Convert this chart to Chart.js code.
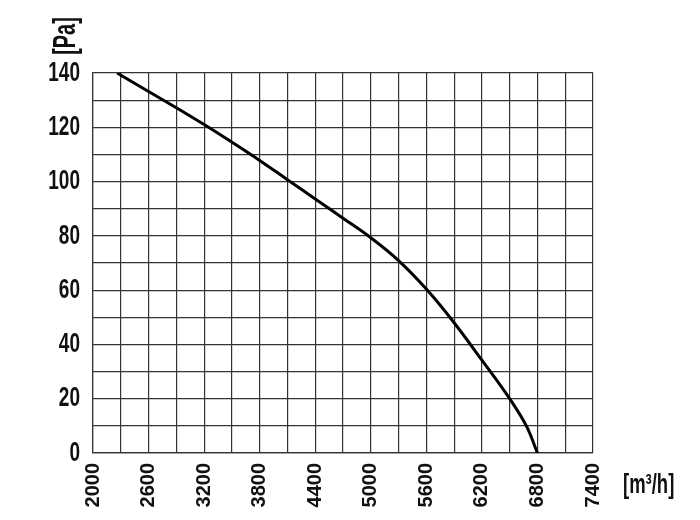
<!DOCTYPE html>
<html>
<head>
<meta charset="utf-8">
<script src="https://cdn.jsdelivr.net/npm/chart.js@4.4.1/dist/chart.umd.min.js"></script>
<style>
	body { margin: 0; background: #fff; }
	#chart { display: block; }
</style>
</head>
<body>
<canvas id="chart" width="700" height="520"></canvas>
<script>
// Fan curve: air flow [m3/h] against static pressure [Pa]

const flowRate = [2260, 2600, 2900, 3200, 3500, 3800, 4100, 4400, 4700, 5000, 5300, 5600, 5900, 6200, 6500, 6680, 6800];
const pressure = [140, 133.2, 127.2, 121, 114.5, 107.8, 100.7, 93.6, 86.5, 79.3, 70.9, 60.4, 48, 34.2, 20, 10, 0];

const xTickLabels = [2000, 2600, 3200, 3800, 4400, 5000, 5600, 6200, 6800, 7400];
const yTickLabels = [0, 20, 40, 60, 80, 100, 120, 140];

const fontFamily = "'Liberation Sans', Arial, sans-serif";
const gridColor = "#333";
const textColor = "#111";

// the original lettering is a tall condensed face, so squeeze it sideways
const drawNarrowText = (ctx, text, x, y, size, squeeze, align, angle) => {
	ctx.save();
	ctx.translate(x, y);
	ctx.rotate(angle || 0);
	ctx.scale(squeeze, 1);
	ctx.font = `bold ${size}px ${fontFamily}`;
	ctx.fillStyle = textColor;
	ctx.textAlign = align;
	ctx.textBaseline = "middle";
	ctx.fillText(text, 0, 0);
	ctx.restore();
};

const narrowLabels = {
	id: "narrowLabels",
	afterDraw: (chart) => {
		const ctx = chart.ctx;
		const yScale = chart.scales.y;
		yTickLabels.forEach((v) => {
			drawNarrowText(ctx, String(v), yScale.right - 13, yScale.getPixelForValue(v), 28, 0.68, "right");
		});
		drawNarrowText(ctx, "[Pa]", 66, 36, 31, 0.64, "center", -Math.PI / 2);
		drawNarrowText(ctx, "[m\u00b3/h]", 623, 485, 28, 0.66, "left");
	},
};

const chartCtx = document.getElementById("chart").getContext("2d");
const chart = new Chart(chartCtx, {
	type: "scatter",
	data: {
		datasets: [
			{
				data: flowRate.map((x, i) => ({ x: x, y: pressure[i] })),
				showLine: true,
				borderColor: "#000",
				borderWidth: 3,
				pointRadius: 0,
				tension: 0.4,
			},
		],
	},
	options: {
		responsive: false,
		animation: false,
		layout: { padding: { left: 0, top: 73, right: 107, bottom: 0 } },
		plugins: {
			legend: { display: false },
			tooltip: { enabled: false },
		},
		scales: {
			x: {
				type: "linear",
				min: 2000,
				max: 7400,
				afterFit: (scale) => {
					scale.height = 67;
				},
				ticks: {
					stepSize: 300,
					autoSkip: false,
					minRotation: 90,
					maxRotation: 90,
					padding: 10,
					color: textColor,
					font: { family: fontFamily, size: 20, weight: "bold" },
					callback: (v) => (xTickLabels.includes(v) ? String(v) : ""),
				},
				grid: { color: gridColor, lineWidth: 1.2, drawTicks: false },
				border: { color: gridColor, width: 1.2 },
			},
			y: {
				type: "linear",
				min: 0,
				max: 140,
				afterFit: (scale) => {
					scale.width = 93;
				},
				ticks: { stepSize: 10, autoSkip: false, display: false },
				grid: { color: gridColor, lineWidth: 1.2, drawTicks: false },
				border: { color: gridColor, width: 1.2 },
			},
		},
	},
	plugins: [narrowLabels],
});
</script>
</body>
</html>
